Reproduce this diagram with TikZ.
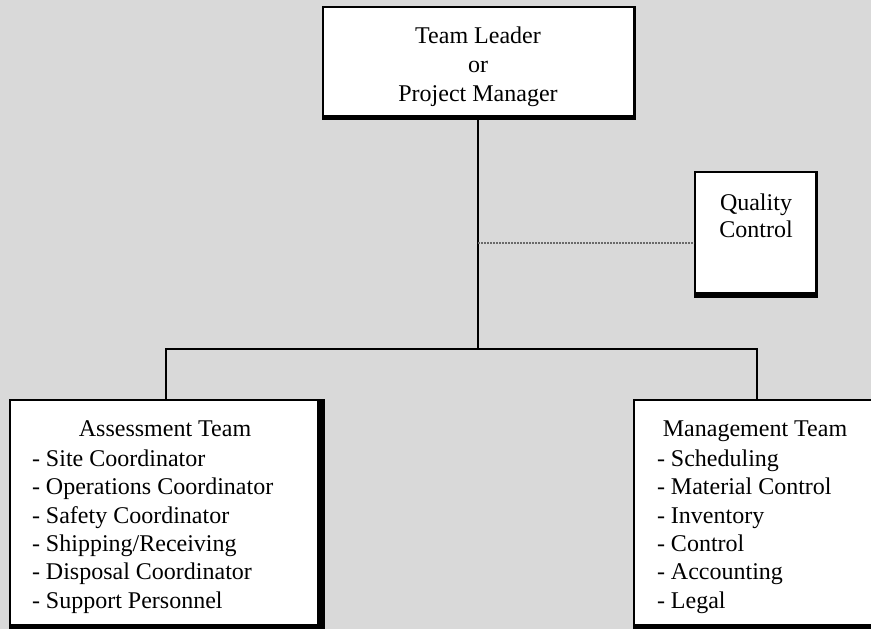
\documentclass[tikz,border=0pt]{standalone}
\usepackage{fontspec}
\setmainfont{Liberation Serif}
\definecolor{paper}{HTML}{D9D9D9}
\definecolor{dotline}{HTML}{6A6A6A}
\begin{document}
\begin{tikzpicture}[x=1pt,y=-1pt,
  box/.style={draw=black, fill=white, line width=2pt, rectangle, inner sep=0pt, anchor=north west},
  heavy/.style={fill=black},
  wire/.style={draw=black, line width=1.6pt},
  dotwire/.style={draw=dotline, line width=2pt, dash pattern=on 2pt off 1pt},
  lbl/.style={inner sep=0pt, outer sep=0pt},
]
% page background
\fill[paper] (0,0) rectangle (871,629);
\useasboundingbox (0,0) rectangle (871,629);
\clip (0,0) rectangle (871,629);

% junction points of the tree
\coordinate (hub) at (478,349);
\coordinate (lb) at (166,349);
\coordinate (rb) at (757,349);
\coordinate (qj) at (478,243);

% boxes: thin frame, heavy right and bottom edges
\node[box, minimum width=312pt, minimum height=112pt] (tl) at (322,6) {};
\fill[heavy] ([xshift=-3.5pt]tl.north east) rectangle (tl.south east);
\fill[heavy] ([yshift=5pt]tl.south west) rectangle (tl.south east);

\node[box, minimum width=122pt, minimum height=125pt] (qc) at (694,171) {};
\fill[heavy] ([xshift=-3.5pt]qc.north east) rectangle (qc.south east);
\fill[heavy] ([yshift=6pt]qc.south west) rectangle (qc.south east);

\node[box, minimum width=314pt, minimum height=229pt] (as) at (9,399) {};
\fill[heavy] ([xshift=-8pt]as.north east) rectangle (as.south east);
\fill[heavy] ([yshift=6pt]as.south west) rectangle (as.south east);

\node[box, minimum width=245pt, minimum height=229pt] (mg) at (633,399) {};
\fill[heavy] ([yshift=6pt]mg.south west) rectangle (mg.south east);

% connectors
\draw[wire] (tl.south -| hub) -- (hub);
\draw[wire] (as.north -| lb) -- (lb) -- (rb) -- (mg.north -| rb);
\draw[dotwire] (qj) -- (qj -| qc.west);

% texts
\node[lbl, align=center, anchor=north, font=\fontsize{24}{29.2}\selectfont] (tlt) at (478,22.9)
  {\strut Team Leader\\or\\Project Manager};
\node[lbl, align=center, anchor=north, font=\fontsize{24}{26.6}\selectfont] (qct) at (756,192.1)
  {\strut Quality\\Control};

\node[lbl, anchor=base, font=\fontsize{24}{28.4}\selectfont] (ast) at (165,436.7) {Assessment Team};
\node[lbl, align=left, anchor=north west, font=\fontsize{24}{28.4}\selectfont] (asl) at (32,446.4)
  {\strut - Site Coordinator\\- Operations Coordinator\\- Safety Coordinator\\- Shipping/Receiving\\- Disposal Coordinator\\- Support Personnel};

\node[lbl, anchor=base, font=\fontsize{24}{28.4}\selectfont] (mgt) at (755,436.7) {Management Team};
\node[lbl, align=left, anchor=north west, font=\fontsize{24}{28.4}\selectfont] (mgl) at (657,446.4)
  {\strut - Scheduling\\- Material Control\\- Inventory\\- Control\\- Accounting\\- Legal};
\end{tikzpicture}
\end{document}
